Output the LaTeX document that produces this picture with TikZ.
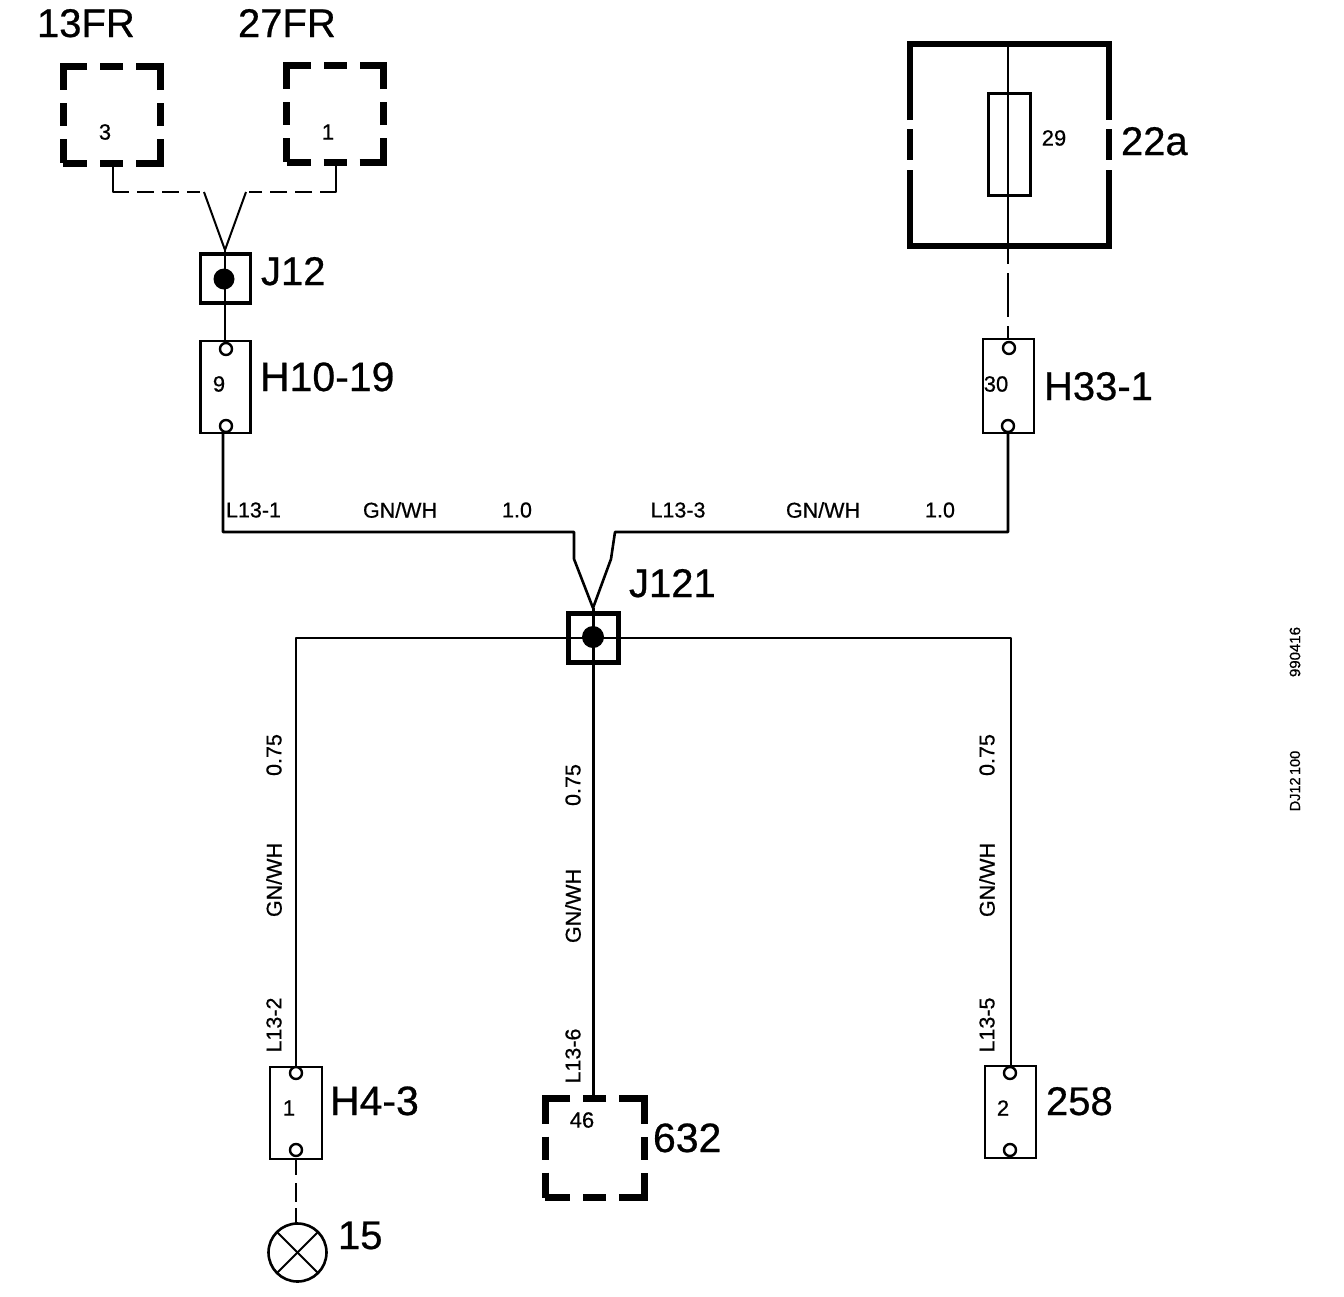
\documentclass[tikz,border=0pt]{standalone}
\usepackage{fontspec}
\setmainfont{Liberation Sans}
\newfontfamily\scanfont[FakeBold=0.6]{Liberation Sans}
\usetikzlibrary{calc}
\tikzset{
  x=1pt,y=-1pt,
  every node/.style={inner sep=0pt,outer sep=0pt},
  wire/.style={draw=black,line width=2.6pt,line join=round},
  dwire/.style={wire,dash pattern=on 44pt off 9pt,dash phase=44pt},
  thinwire/.style={wire,line width=2pt},
  loadwire/.style={wire,line width=2pt,dash pattern=on 42pt off 8pt on 17pt off 8pt on 17pt off 8pt on 13pt},
  big/.style={font=\scanfont\fontsize{40}{40}\selectfont,anchor=base west},
  bigw/.style={font=\scanfont\fontsize{41}{41}\selectfont,anchor=base west},
  tiny/.style={font=\scanfont\fontsize{22}{22}\selectfont},
  small/.style={font=\scanfont\fontsize{21.5}{21.5}\selectfont},
  vsmall/.style={small,rotate=90},
  stamp/.style={font=\scanfont\fontsize{15}{15}\selectfont,rotate=90},
  stampn/.style={font=\scanfont\fontsize{14.5}{14.5}\selectfont,rotate=90},
  dashbox/.style={draw=black,line width=7pt,minimum width=97pt,minimum height=97pt,
    dash pattern=on 48pt off 13pt on 23pt off 13pt,dash phase=24pt},
  dashboxl/.style={draw=black,line width=7pt,minimum width=99pt,minimum height=99pt,
    dash pattern=on 50pt off 13pt on 23pt off 13pt,dash phase=25pt},
  conn/.style={draw=black,line width=2.8pt,minimum width=50pt,minimum height=92pt},
  pin/.style={draw=black,fill=white,line width=2.4pt,circle,minimum size=12pt},
  splice/.style={draw=black,line width=3.2pt,minimum width=50pt,minimum height=49pt},
  splicebig/.style={splice,line width=5pt},
  dot/.style={fill=black,circle,minimum size=21pt},
  heavy/.style={draw=black,line width=6.5pt,line join=miter},
  fuse/.style={draw=black,line width=2.6pt,minimum width=42pt,minimum height=102pt},
  lamp/.style={draw=black,line width=2.6pt,circle,minimum size=58pt},
}
\begin{document}
\begin{tikzpicture}
\useasboundingbox (0,0) rectangle (1344,1296);
\fill[white] (0,0) rectangle (1344,1296);

% top-left loads
\node[dashbox] (fr13) at (111.5,114.5) {};
\node[dashbox] (fr27) at (335,113.5) {};
\node[tiny] (t3) at (105,132) {3};
\node[tiny] (t1) at (328,132) {1};
\node[big] (l13) at (37,37) {13FR};
\node[big] (l27) at (238,37) {27FR};

% J12
\node[splice] (j12) at (225.5,278.5) {};
\node[big] (lj12) at (261,285) {J12};
\coordinate (apex12) at (225,250);
\coordinate (k13a) at (113,192);
\coordinate (k13b) at (204,192);
\coordinate (k27a) at (336,192);
\coordinate (k27b) at (246,192);
\draw[loadwire] (113,166) -- (k13a) -- (k13b);
\draw[loadwire] (336,166) -- (k27a) -- (k27b);
\draw[thinwire] (k13b) -- (apex12) -- (k27b);

% H10-19
\node[conn] (h10) at (225.5,387) {};
\draw[wire] (apex12) -- (h10.north -| apex12);
\node[dot] (d12) at (224,279) {};
\node[pin] (h10a) at (226,349) {};
\node[pin] (h10b) at (226,426) {};
\node[tiny] (t9) at (219,384) {9};
\node[bigw] (lh10) at (260,391) {H10-19};

% 22a
\draw[heavy] (910,120) -- (910,44) -- (1109,44) -- (1109,120);
\draw[heavy] (910,129) -- (910,160);
\draw[heavy] (1109,129) -- (1109,160);
\draw[heavy] (910,170) -- (910,246) -- (1109,246) -- (1109,170);
\node[fuse] (f29) at (1009.5,144.5) {};
\coordinate (top22) at (1008,47);
\coordinate (end22) at (1008,264);
\node[conn,minimum width=51pt,minimum height=94pt] (h33) at (1008.5,386) {};
\draw[wire] (top22) -- (end22);
\draw[dwire] (end22) -- (h33.north -| end22);
\node[pin] (h33a) at (1009,348) {};
\node[pin] (h33b) at (1008,426) {};
\node[tiny] (t29) at (1054,138) {29};
\node[tiny] (t30) at (996,384) {30};
\node[big] (l22) at (1121,155) {22a};
\node[big] (lh33) at (1044,400) {H33-1};

% J121
\node[splicebig] (j121) at (593.5,637.5) {};
\coordinate (apex) at (593,608);
\coordinate (ul) at (223,532);
\coordinate (ulm) at (574,532);
\coordinate (ulb) at (574,559);
\coordinate (ur) at (1008,532);
\coordinate (urm) at (615,532);
\coordinate (urb) at (611,559);
\draw[wire] (h10b.south -| ul) -- (ul) -- (ulm) -- (ulb) -- (apex);
\draw[wire] (h33b.south -| ur) -- (ur) -- (urm) -- (urb) -- (apex);
\coordinate (bl) at (296,638);
\coordinate (br) at (1011,638);
\node[conn,minimum width=52pt] (h4) at (296,1113) {};
\node[dashboxl] (b632) at (594.5,1148) {};
\node[conn,minimum width=51pt] (c258) at (1010.5,1112) {};
\draw[wire,line width=3pt] (apex) -- (b632.north -| apex);
\draw[wire,line width=2.7pt] (h4.north -| bl) -- (bl) -- (br) -- (c258.north -| br);
\node[dot,minimum size=22pt] (d121) at (593,637) {};
\node[big] (lj121) at (629,597) {J121};

% lower connectors
\node[pin] (h4a) at (296,1073) {};
\node[pin] (h4b) at (296,1150) {};
\node[pin] (c258a) at (1010,1073) {};
\node[pin] (c258b) at (1010,1150) {};
\node[tiny] (t1b) at (289,1108) {1};
\node[tiny] (t46) at (582,1120) {46};
\node[tiny] (t2) at (1003,1108) {2};
\node[bigw] (lh4) at (330,1115) {H4-3};
\node[bigw] (l632) at (653,1152) {632};
\node[big] (l258) at (1046,1115) {258};

% lamp
\node[lamp] (lamp15) at (297.5,1252.5) {};
\draw[wire,line width=2.4pt,dash pattern=on 16pt off 8pt on 19pt off 6pt] (h4.south -| h4b) -- (lamp15.north -| h4b);
\draw[thinwire] (lamp15.north west) -- (lamp15.south east);
\draw[thinwire] (lamp15.north east) -- (lamp15.south west);
\node[big] (l15) at (338,1249) {15};

% wire labels
\node[small] (w1) at (253.5,510) {L13-1};
\node[small] (w2) at (400,510) {GN/WH};
\node[small] (w3) at (517,510) {1.0};
\node[small] (w4) at (678,510) {L13-3};
\node[small] (w5) at (823,510) {GN/WH};
\node[small] (w6) at (940,510) {1.0};
\node[vsmall] (v1) at (274,755) {0.75};
\node[vsmall] (v2) at (274,880) {GN/WH};
\node[vsmall] (v3) at (274,1025) {L13-2};
\node[vsmall] (v4) at (573,785) {0.75};
\node[vsmall] (v5) at (573,906) {GN/WH};
\node[vsmall] (v6) at (573,1056) {L13-6};
\node[vsmall] (v7) at (987,755) {0.75};
\node[vsmall] (v8) at (987,880) {GN/WH};
\node[vsmall] (v9) at (987,1025) {L13-5};

% stamps
\node[stamp] (s1) at (1295,652) {990416};
\node[stampn] (s2) at (1295,781) {DJ12\,100};
\end{tikzpicture}
\end{document}
